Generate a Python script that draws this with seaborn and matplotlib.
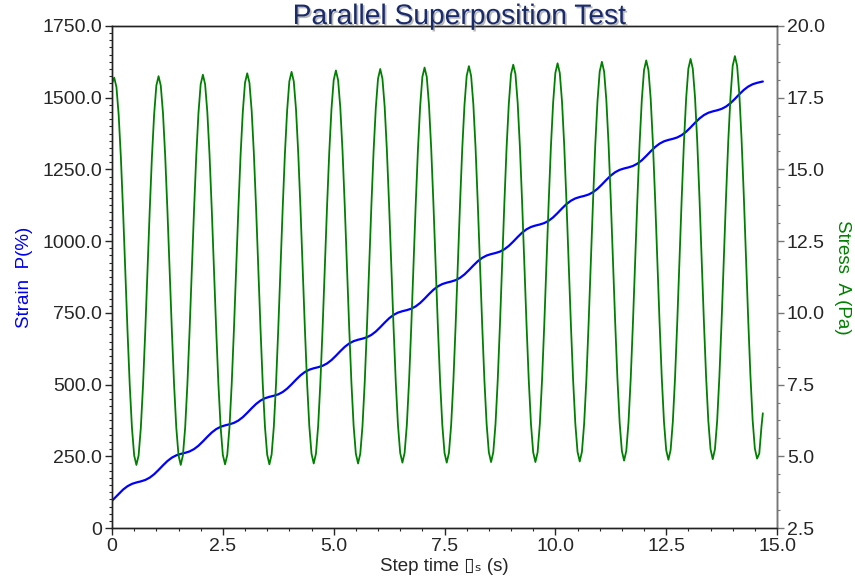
import matplotlib
matplotlib.use("Agg")
import matplotlib.pyplot as plt
import matplotlib.patheffects as pe
from matplotlib.ticker import MultipleLocator, AutoMinorLocator, FuncFormatter
import numpy as np
import pandas as pd
import seaborn as sns

# strain sample times (s): start, every 0.1 s from 0.05, last point at 14.68
strain_time = [0.0] + list(np.round(np.arange(0.05, 14.7, 0.1), 2)) + [14.68]

# Strain P (%), one row per second
strain = [95.0,
          102.9, 119.0, 134.0, 145.8, 153.9, 158.8, 162.6, 167.5, 175.6, 187.4,
          202.4, 218.5, 233.5, 245.3, 253.4, 258.3, 262.1, 267.0, 275.1, 286.9,
          301.9, 318.0, 333.0, 344.8, 352.9, 357.8, 361.6, 366.5, 374.6, 386.4,
          401.4, 417.5, 432.5, 444.3, 452.4, 457.3, 461.1, 466.0, 474.1, 485.9,
          500.9, 517.0, 532.0, 543.8, 551.9, 556.8, 560.6, 565.5, 573.6, 585.4,
          600.4, 616.5, 631.5, 643.3, 651.4, 656.3, 660.1, 665.0, 673.1, 684.9,
          699.9, 716.0, 731.0, 742.8, 750.9, 755.8, 759.6, 764.5, 772.6, 784.4,
          799.4, 815.5, 830.5, 842.3, 850.4, 855.3, 859.1, 864.0, 872.1, 883.9,
          898.9, 915.0, 930.0, 941.8, 949.9, 954.8, 958.6, 963.5, 971.6, 983.4,
          998.4, 1014.5, 1029.5, 1041.3, 1049.4, 1054.3, 1058.1, 1063.0, 1071.1, 1082.9,
          1097.9, 1114.0, 1129.0, 1140.8, 1148.9, 1153.8, 1157.6, 1162.5, 1170.6, 1182.4,
          1197.4, 1213.5, 1228.5, 1240.3, 1248.4, 1253.3, 1257.1, 1262.0, 1270.1, 1281.9,
          1296.9, 1313.0, 1328.0, 1339.8, 1347.9, 1352.8, 1356.6, 1361.5, 1369.6, 1381.4,
          1396.4, 1412.5, 1427.5, 1439.3, 1447.4, 1452.3, 1456.1, 1461.0, 1469.1, 1480.9,
          1495.9, 1512.0, 1527.0, 1538.8, 1546.9, 1551.8, 1555.6,
          1556.5]

# stress sample times (s): every 0.05 s up to 14.65, last point at 14.68
stress_time = list(np.round(np.arange(0.0, 14.66, 0.05), 2)) + [14.68]

# Stress A (Pa), one row per second
stress = [18.00, 18.20, 17.87, 16.91, 15.42, 13.54, 11.45, 9.36, 7.48, 5.99, 5.03, 4.70, 5.03, 5.99, 7.48, 9.36, 11.45, 13.54, 15.42, 16.91,
          17.92, 18.25, 17.92, 16.96, 15.46, 13.57, 11.48, 9.39, 7.50, 6.00, 5.04, 4.70, 5.04, 6.00, 7.50, 9.39, 11.48, 13.57, 15.46, 16.96,
          17.97, 18.30, 17.97, 17.00, 15.50, 13.61, 11.51, 9.41, 7.52, 6.02, 5.05, 4.72, 5.05, 6.02, 7.52, 9.41, 11.51, 13.61, 15.50, 17.00,
          18.02, 18.35, 18.02, 17.05, 15.55, 13.65, 11.54, 9.43, 7.53, 6.03, 5.06, 4.72, 5.06, 6.03, 7.53, 9.43, 11.54, 13.65, 15.55, 17.05,
          18.07, 18.40, 18.07, 17.10, 15.59, 13.69, 11.58, 9.47, 7.57, 6.06, 5.09, 4.75, 5.09, 6.06, 7.57, 9.47, 11.58, 13.69, 15.59, 17.10,
          18.11, 18.45, 18.11, 17.14, 15.63, 13.72, 11.60, 9.48, 7.57, 6.06, 5.09, 4.75, 5.09, 6.06, 7.57, 9.48, 11.60, 13.72, 15.63, 17.14,
          18.16, 18.50, 18.16, 17.19, 15.67, 13.76, 11.64, 9.52, 7.61, 6.09, 5.12, 4.78, 5.12, 6.09, 7.61, 9.52, 11.64, 13.76, 15.67, 17.19,
          18.22, 18.55, 18.22, 17.24, 15.72, 13.80, 11.67, 9.54, 7.62, 6.10, 5.12, 4.78, 5.12, 6.10, 7.62, 9.54, 11.67, 13.80, 15.72, 17.24,
          18.26, 18.60, 18.26, 17.28, 15.76, 13.83, 11.70, 9.57, 7.64, 6.12, 5.14, 4.80, 5.14, 6.12, 7.64, 9.57, 11.70, 13.83, 15.76, 17.28,
          18.32, 18.65, 18.32, 17.33, 15.80, 13.87, 11.73, 9.59, 7.66, 6.13, 5.14, 4.80, 5.14, 6.13, 7.66, 9.59, 11.73, 13.87, 15.80, 17.33,
          18.36, 18.70, 18.36, 17.37, 15.84, 13.90, 11.76, 9.62, 7.68, 6.15, 5.16, 4.82, 5.16, 6.15, 7.68, 9.62, 11.76, 13.90, 15.84, 17.37,
          18.41, 18.75, 18.41, 17.42, 15.89, 13.95, 11.80, 9.65, 7.71, 6.18, 5.19, 4.85, 5.19, 6.18, 7.71, 9.65, 11.80, 13.95, 15.89, 17.42,
          18.46, 18.80, 18.46, 17.47, 15.93, 13.99, 11.84, 9.69, 7.75, 6.21, 5.22, 4.88, 5.22, 6.21, 7.75, 9.69, 11.84, 13.99, 15.93, 17.47,
          18.51, 18.85, 18.51, 17.52, 15.98, 14.04, 11.88, 9.72, 7.78, 6.24, 5.25, 4.90, 5.25, 6.24, 7.78, 9.72, 11.88, 14.04, 15.98, 17.52,
          18.61, 18.95, 18.61, 17.62, 16.06, 14.11, 11.94, 9.77, 7.82, 6.26, 5.27, 4.92, 5.10, 6.05,
          6.50]

df_strain = pd.DataFrame({"t": strain_time, "strain": strain})
df_stress = pd.DataFrame({"t": stress_time, "stress": stress})

sns.set_style("ticks")
plt.rcParams["font.family"] = ["Liberation Sans", "DejaVu Sans"]

fig = plt.figure(figsize=(8.55, 5.85), dpi=100)
ax = fig.add_axes([0.131, 0.0974, 0.7778, 0.8582])
ax2 = ax.twinx()

sns.lineplot(data=df_strain, x="t", y="strain", ax=ax, color="#0000ff", linewidth=1.6)
sns.lineplot(data=df_stress, x="t", y="stress", ax=ax2, color="#008000", linewidth=1.3)

ax.set_xlim(0, 15)
ax.set_ylim(0, 1750)
ax2.set_ylim(2.5, 20)

fmt = FuncFormatter(lambda v, p: "0" if abs(v) < 1e-9 else f"{v:.1f}")
ax.xaxis.set_major_locator(MultipleLocator(2.5))
ax.xaxis.set_minor_locator(AutoMinorLocator(5))
ax.yaxis.set_major_locator(MultipleLocator(250))
ax.yaxis.set_minor_locator(AutoMinorLocator(10))
ax2.yaxis.set_major_locator(MultipleLocator(2.5))
ax2.yaxis.set_minor_locator(AutoMinorLocator(4))
ax.xaxis.set_major_formatter(fmt)
ax.yaxis.set_major_formatter(fmt)
ax2.yaxis.set_major_formatter(fmt)

for a in (ax, ax2):
    a.tick_params(which="major", direction="out", length=5, width=1, labelsize=14, pad=2)
    a.tick_params(which="minor", direction="out", length=2.5, width=0.8)
    for s in a.spines.values():
        s.set_visible(True)
        s.set_color("#222222")
        s.set_linewidth(1)
ax2.spines["right"].set_color("#777777")
ax2.tick_params(which="both", color="#777777")

ax.set_xlabel("Step time \u25af\u209b (s)", fontsize=13.5, labelpad=2)
ax.set_ylabel("Strain  P(%)", fontsize=13.5, color="#0000ee", labelpad=7)
ax2.set_ylabel("Stress  A (Pa)", fontsize=13.5, color="#008000", rotation=270, labelpad=19)

fig.text(0.5374, 0.959, "Parallel Superposition Test", ha="center", va="baseline",
         fontsize=20.3, color="#1a2b6b",
         path_effects=[pe.SimplePatchShadow(offset=(1.2, -1.2), shadow_rgbFace="#8a8a8a", alpha=0.6),
                       pe.Normal()])

fig.savefig("out.png", dpi=100)
